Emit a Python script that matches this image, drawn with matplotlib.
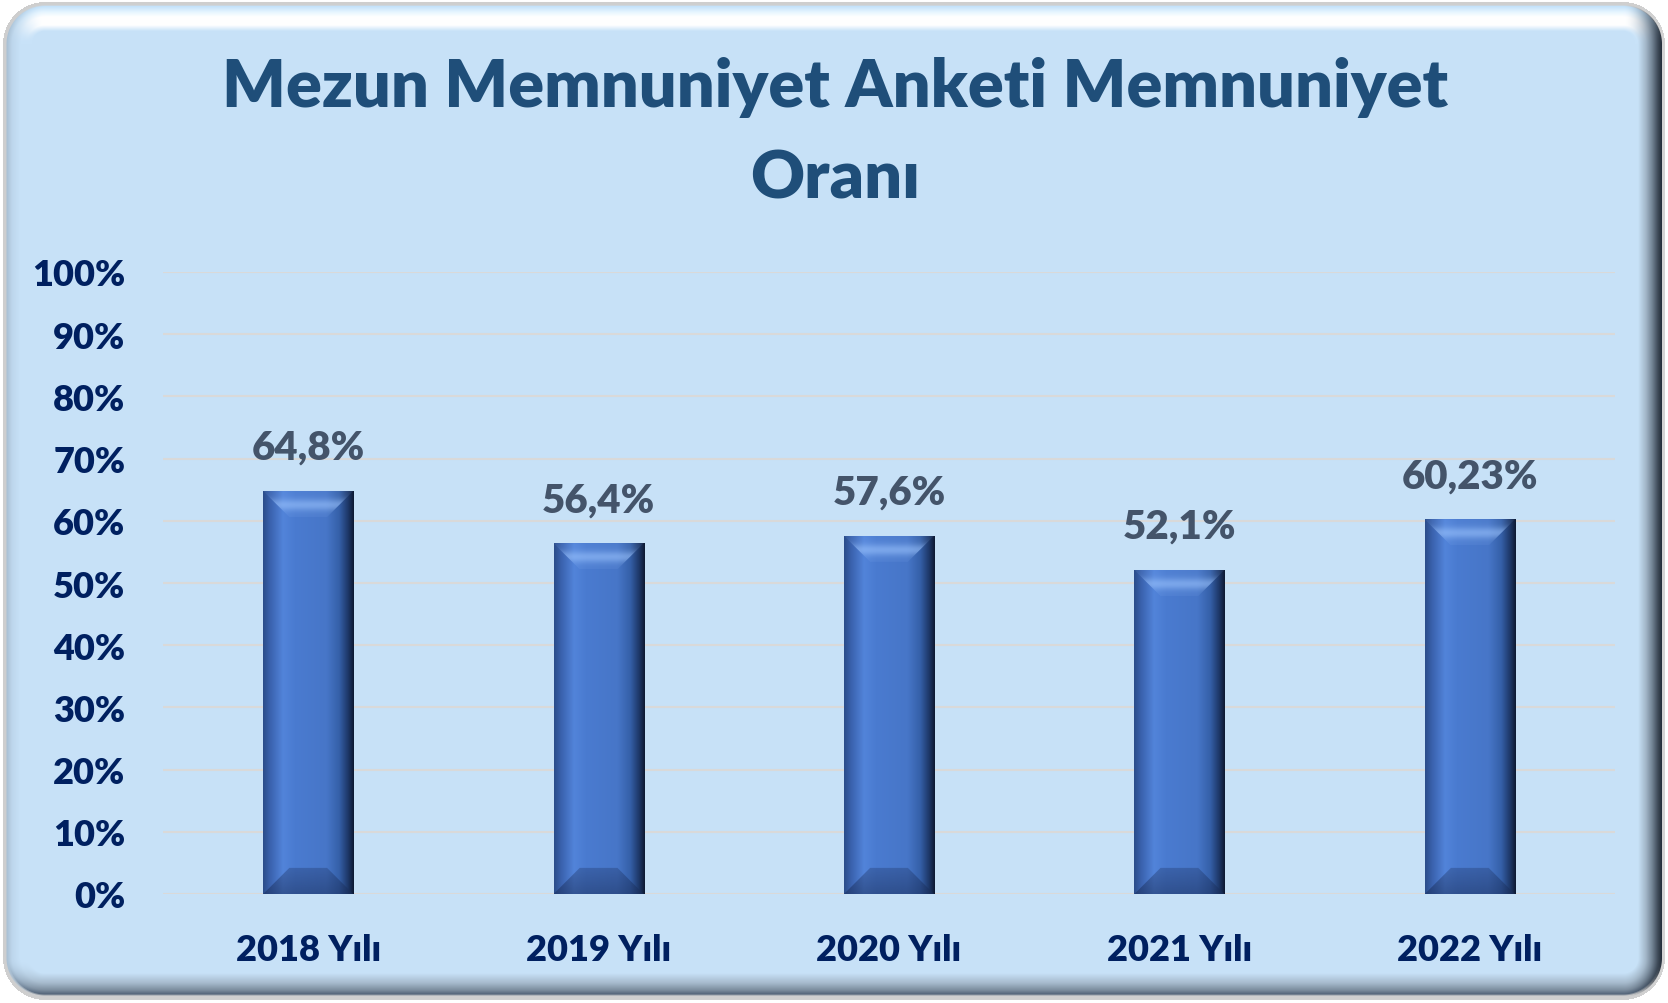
import numpy as np
import matplotlib.pyplot as plt
from matplotlib.patches import Polygon
from matplotlib.colors import LinearSegmentedColormap, to_rgb

# data
years = ['2018 Yılı', '2019 Yılı', '2020 Yılı', '2021 Yılı', '2022 Yılı']
values = [64.8, 56.4, 57.6, 52.1, 60.23]
value_labels = ['64,8%', '56,4%', '57,6%', '52,1%', '60,23%']
yticks = list(range(0, 101, 10))
title = 'Mezun Memnuniyet Anketi Memnuniyet\nOranı'

plt.rcParams['font.family'] = ['Lato', 'DejaVu Sans']
plt.rcParams['font.weight'] = 'heavy'

W, H = 1668, 1004
BASE = '#C8E2F8'
fig = plt.figure(figsize=(W/100, H/100), dpi=100)
fig.patch.set_facecolor('white')

#beveled rounded frame, built as an image (pixel rows go downward)
yy, xx = np.mgrid[0:H, 0:W] + 0.5
cx, cy, hx, hy, r = W/2, H/2, W/2 - 3, H/2 - 3, 42
qx = np.abs(xx - cx) - (hx - r)
qy = np.abs(yy - cy) - (hy - r)
sdf = np.hypot(np.maximum(qx, 0), np.maximum(qy, 0)) + np.minimum(np.maximum(qx, qy), 0) - r
d = -sdf
corner = (qx > 0) & (qy > 0)
ln = np.hypot(qx, qy) + 1e-9
nx = np.where(corner, qx/ln, (qx >= qy).astype(float)) * np.sign(xx - cx)
ny = np.where(corner, qy/ln, (qy > qx).astype(float)) * np.sign(yy - cy)

def profile(pts):
    ds = [p[0] for p in pts]
    cols = np.array([to_rgb(p[1]) for p in pts])
    return np.stack([np.interp(d, ds, cols[:, k]) for k in range(3)], axis=-1)

top = profile([(0, '#CFCFCF'), (3, '#CFCFCF'), (4.5, '#C4E2FA'), (10, '#E6F5FF'),
               (15, '#FFFFFF'), (23, '#FFFFFF'), (29, BASE)])
right = profile([(0, '#D4D4D4'), (2.5, '#D4D4D4'), (3.5, '#26303C'), (7, '#3E4A58'),
                 (13, '#748596'), (19, '#A2B6C8'), (27, BASE)])
bottom = profile([(0, '#D0D0D0'), (4, '#D0D0D0'), (6, '#55667A'), (10, '#7C8D9E'),
                  (17, '#A6BACC'), (27, BASE)])
left = profile([(0, '#CFCFCF'), (3, '#CFCFCF'), (4, '#A9C0D4'), (9, '#BDD6EC'),
                (18, BASE)])
wr = np.maximum(nx, 0)**2
wl = np.maximum(-nx, 0)**2
wb = np.maximum(ny, 0)**2
wt = np.maximum(-ny, 0)**2
ws = wr + wl + wb + wt + 1e-9
img = (top*wt[..., None] + right*wr[..., None] + bottom*wb[..., None] + left*wl[..., None]) / ws[..., None]
img[d < 0] = 1.0

bg = fig.add_axes([0, 0, 1, 1])
bg.imshow(img, extent=[0, W, H, 0], interpolation='bilinear')
bg.set_xlim(0, W)
bg.set_ylim(H, 0)
bg.axis('off')

ax = fig.add_axes([163/W, 109/H, 1452/W, 622/H])
ax.set_facecolor('none')

x = np.arange(len(years))
bars = ax.bar(x, values, width=0.31, color='#4A7BD0', zorder=3)

body_cmap = LinearSegmentedColormap.from_list('body', [
    (0.0, '#2B4C8A'), (0.08, '#3A62AE'), (0.22, '#5284DA'), (0.35, '#4A7BD0'),
    (0.7, '#4776C8'), (0.84, '#3560A8'), (0.94, '#1D3666'), (1.0, '#0E1A32')])

bx = 0.09   # bevel width in x data units
by = 4.2    # bevel height in y data units
grad = np.linspace(0, 1, 256)[None, :]
for b in bars:
    x0, w, h = b.get_x(), b.get_width(), b.get_height()
    im = ax.imshow(grad, cmap=body_cmap, extent=[x0, x0+w, 0, h],
                   aspect='auto', zorder=3.1)
    im.set_clip_path(b)
    # top bevel highlight
    tp = Polygon([(x0, h), (x0+w, h), (x0+w-bx, h-by), (x0+bx, h-by)],
                 closed=True, transform=ax.transData)
    t = np.linspace(0, 1, 64)
    a = 0.08 + 0.5*np.exp(-((t-0.55)/0.22)**2)
    rgba = np.zeros((64, 1, 4))
    rgba[:, 0, :3] = [0.62, 0.78, 1.0]
    rgba[:, 0, 3] = a
    im2 = ax.imshow(rgba, extent=[x0, x0+w, h-by, h], aspect='auto', zorder=3.2)
    im2.set_clip_path(tp)
    # bottom bevel shade, a bit lighter toward the inner edge
    bp = Polygon([(x0, 0), (x0+w, 0), (x0+w-bx, by), (x0+bx, by)],
                 closed=True, transform=ax.transData)
    rgba_b = np.zeros((64, 1, 4))
    rgba_b[:, 0, :3] = to_rgb('#1B2F5C')
    rgba_b[:, 0, 3] = np.linspace(0.3, 0.55, 64)
    im3 = ax.imshow(rgba_b, extent=[x0, x0+w, 0, by], aspect='auto', zorder=3.3)
    im3.set_clip_path(bp)

ax.set_xlim(-0.5, len(years) - 0.5)
ax.set_ylim(0, 100)

for xi, v, lbl in zip(x, values, value_labels):
    ax.annotate(lbl, (xi, v), xytext=(0, 18), textcoords='offset points',
                ha='center', va='bottom', fontsize=29, color='#44546A',
                fontweight='heavy')

ax.set_yticks(yticks)
ax.set_yticklabels(['%d%%' % t for t in yticks])
ax.set_xticks(x)
ax.set_xticklabels(years)
ax.tick_params(axis='y', length=0, pad=27, labelsize=26, labelcolor='#002060')
ax.tick_params(axis='x', length=0, pad=28, labelsize=26, labelcolor='#002060')
ax.yaxis.grid(True, color='#D9D9D9', linewidth=1.5)
ax.set_axisbelow(True)
for s in ax.spines.values():
    s.set_visible(False)

fig.text(835/W, 1 - 133/H, title, ha='center', va='center', fontsize=48,
         color='#1F4E79', linespacing=1.62, fontweight='heavy')

fig.savefig('out.png', dpi=100)
